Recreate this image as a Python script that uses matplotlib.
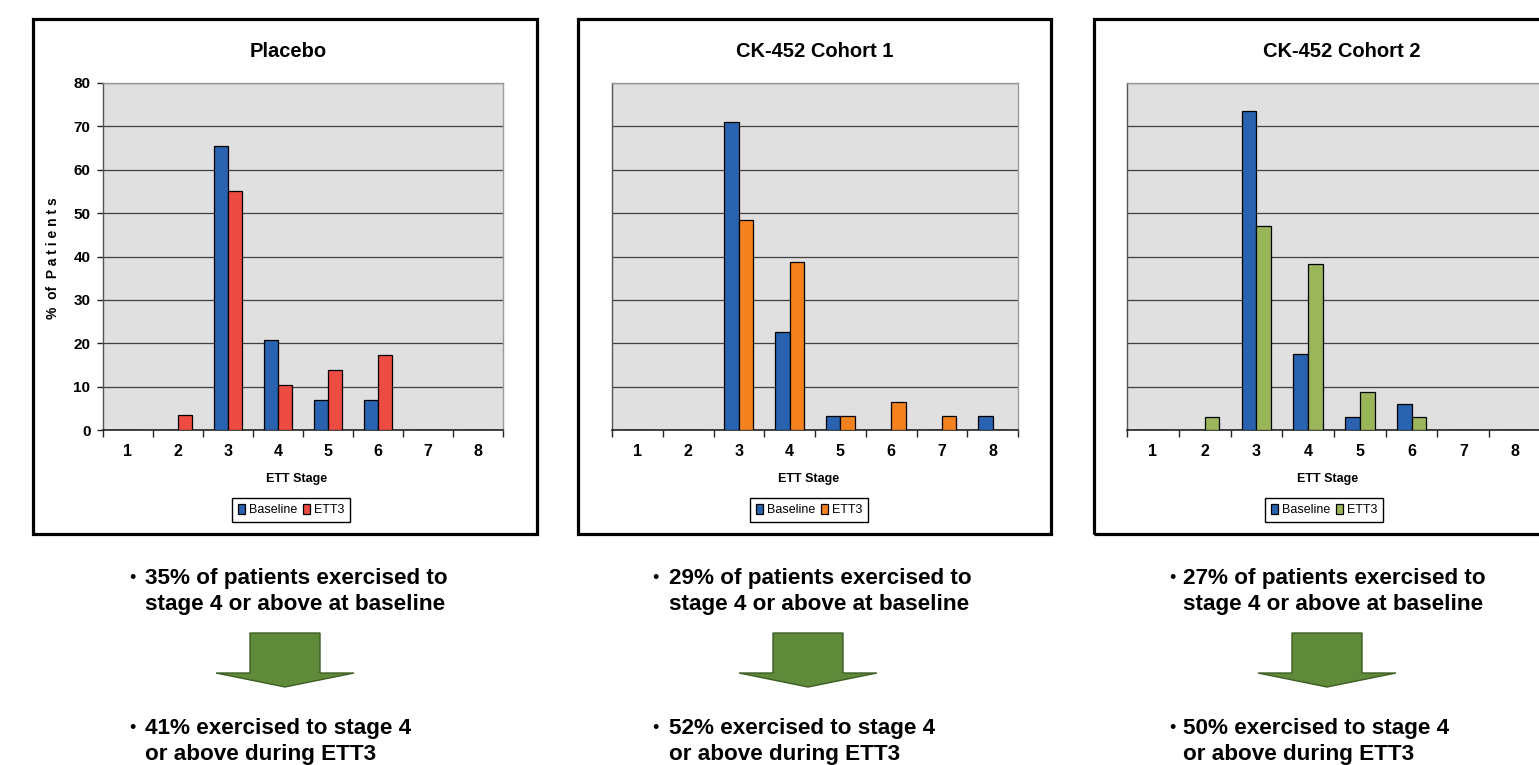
import matplotlib
matplotlib.use("Agg")
import matplotlib.pyplot as plt
from matplotlib import font_manager
from matplotlib.patches import Rectangle, Polygon

# ---------------- data ----------------
stages = [1, 2, 3, 4, 5, 6, 7, 8]
stage_labels = ["1", "2", "3", "4", "5", "6", "7", "8"]
y_ticks = [0, 10, 20, 30, 40, 50, 60, 70, 80]

titles = ["Placebo", "CK-452 Cohort 1", "CK-452 Cohort 2"]
series_names = ["Baseline", "ETT3"]

placebo_baseline = [0, 0, 65.5, 20.7, 6.9, 6.9, 0, 0]
placebo_ett3 = [0, 3.4, 55.2, 10.3, 13.8, 17.2, 0, 0]
cohort1_baseline = [0, 0, 71.0, 22.6, 3.2, 0, 0, 3.2]
cohort1_ett3 = [0, 0, 48.4, 38.7, 3.2, 6.5, 3.2, 0]
cohort2_baseline = [0, 0, 73.5, 17.6, 2.9, 5.9, 0, 0]
cohort2_ett3 = [0, 2.9, 47.1, 38.2, 8.8, 2.9, 0, 0]

text_before = [
    ["35% of patients exercised to", "stage 4 or above at baseline"],
    ["29% of patients exercised to", "stage 4 or above at baseline"],
    ["27% of patients exercised to", "stage 4 or above at baseline"],
]
text_after = [
    ["41% exercised to stage 4", "or above during ETT3"],
    ["52% exercised to stage 4", "or above during ETT3"],
    ["50% exercised to stage 4", "or above during ETT3"],
]

baseline_color = "#2962ae"
ett3_colors = ["#ee4b43", "#f5821f", "#9bb55a"]

# ---------------- fonts ----------------
def has_font(name):
    try:
        font_manager.findfont(font_manager.FontProperties(family=name),
                              fallback_to_default=False)
        return True
    except Exception:
        return False

NARROW = "Liberation Sans Narrow" if has_font("Liberation Sans Narrow") else None
MAIN = "Liberation Sans"
narrow_family = [NARROW, MAIN] if NARROW else [MAIN]
tick_size = 13 if NARROW else 11.5
ytick_size = 12 if NARROW else 11
leg_size = 10 if NARROW else 9

plt.rcParams["font.family"] = [MAIN, "DejaVu Sans"]

W, H = 1539, 765
fig = plt.figure(figsize=(W / 100, H / 100), dpi=100)


def fx(x):
    return x / W


def fy(y):
    return 1 - y / H


def rect_axes(l, t, r, b):
    return fig.add_axes([fx(l), fy(b), (r - l) / W, (b - t) / H])


panels = [
    dict(frame=(33, 19, 537, 534), ax=(103, 83, 503, 430), title_x=288,
         legend_x=291, bullet_x=132, text_x=145, arrow_x=285, ylab=True,
         base=placebo_baseline, ett=placebo_ett3),
    dict(frame=(578, 19, 1051, 534), ax=(612, 83, 1018, 430), title_x=815,
         legend_x=809, bullet_x=655, text_x=669, arrow_x=808, ylab=False,
         base=cohort1_baseline, ett=cohort1_ett3),
    dict(frame=(1094, 19, 1600, 534), ax=(1127, 83, 1541, 430), title_x=1342,
         legend_x=1324, bullet_x=1172, text_x=1183, arrow_x=1327, ylab=False,
         base=cohort2_baseline, ett=cohort2_ett3),
]

bw = 0.286
for i, p in enumerate(panels):
    # outer frame
    l, t, r, b = p["frame"]
    fig.patches.append(Rectangle((fx(l), fy(b)), (r - l) / W, (b - t) / H,
                                 transform=fig.transFigure, fill=False,
                                 edgecolor="black", linewidth=2.3, zorder=0))
    ax = rect_axes(*p["ax"])
    ax.set_facecolor("#e0e0e0")
    xs = stages
    ax.bar([x - bw / 2 for x in xs], p["base"], width=bw, color=baseline_color,
           edgecolor="black", linewidth=0.9, label=series_names[0], zorder=3)
    ax.bar([x + bw / 2 for x in xs], p["ett"], width=bw, color=ett3_colors[i],
           edgecolor="black", linewidth=0.9, label=series_names[1], zorder=3)
    ax.set_xlim(0.5, 8.5)
    ax.set_ylim(0, 80)
    ax.set_yticks(y_ticks)
    ax.yaxis.grid(True, color="#404040", linewidth=0.9, zorder=1)
    ax.set_axisbelow(True)
    # x: major ticks at boundaries, labels on minor ticks at centres
    ax.set_xticks([s + 0.5 for s in [0] + stages])
    ax.set_xticklabels([])
    ax.set_xticks(stages, minor=True)
    ax.set_xticklabels(stage_labels, minor=True, family=narrow_family,
                       fontsize=tick_size, fontweight="bold")
    ax.tick_params(axis="x", which="major", direction="out", length=5,
                   width=1, color="#222222")
    ax.tick_params(axis="x", which="minor", length=0, pad=10)
    for s in ["top", "right"]:
        ax.spines[s].set_color("#9a9a9a")
        ax.spines[s].set_linewidth(1)
    ax.spines["left"].set_color("#555555")
    ax.spines["left"].set_linewidth(1)
    ax.spines["bottom"].set_color("#222222")
    ax.spines["bottom"].set_linewidth(1.2)
    if p["ylab"]:
        ax.set_yticklabels([str(v) for v in y_ticks], family=narrow_family,
                           fontsize=ytick_size, fontweight="bold")
        ax.tick_params(axis="y", direction="out", length=4, width=1,
                       color="#222222", pad=5)
        fig.text(fx(53), fy(258), "%  of  P a t i e n t s", rotation=90,
                 ha="center", va="center", fontsize=10, fontweight="bold")
    else:
        ax.set_yticklabels([])
        ax.tick_params(axis="y", length=0)

    # x-axis title
    fig.text(fx((p["ax"][0] + p["ax"][2]) / 2 - 6), fy(479), "ETT Stage",
             ha="center", va="center", family=narrow_family,
             fontsize=10 if NARROW else 9, fontweight="bold")

    # chart title
    fig.text(fx(p["title_x"]), fy(57), titles[i], ha="center",
             va="baseline", fontsize=14.5, fontweight="bold")

    # legend
    leg = ax.legend(loc="center", bbox_to_anchor=(fx(p["legend_x"]), fy(510)),
                    bbox_transform=fig.transFigure, ncol=2, frameon=True,
                    fancybox=False, edgecolor="black", framealpha=1,
                    handlelength=0.55, handleheight=0.9, handletextpad=0.3,
                    columnspacing=0.5, borderpad=0.45,
                    prop=dict(family=narrow_family, size=leg_size))
    leg.get_frame().set_linewidth(1.0)

    # text below
    fs = 16.2
    for k, line in enumerate(text_before[i]):
        yb = 584 + 26 * k
        fig.text(fx(p["text_x"]), fy(yb), line, ha="left", va="baseline",
                 fontsize=fs, fontweight="bold")
    fig.text(fx(p["bullet_x"]), fy(583), "\u2022", ha="center",
             va="baseline", fontsize=13)
    for k, line in enumerate(text_after[i]):
        yb = 734 + 26 * k
        fig.text(fx(p["text_x"]), fy(yb), line, ha="left", va="baseline",
                 fontsize=fs, fontweight="bold")
    fig.text(fx(p["bullet_x"]), fy(733), "\u2022", ha="center",
             va="baseline", fontsize=13)

    # arrow
    cx = p["arrow_x"]
    pts = [(cx - 35, 633), (cx + 35, 633), (cx + 35, 673), (cx + 69, 673),
           (cx, 687), (cx - 69, 673), (cx - 35, 673)]
    fig.patches.append(Polygon([(fx(a), fy(c)) for a, c in pts], closed=True,
                               transform=fig.transFigure, facecolor="#5e8a3a",
                               edgecolor="#3d5e24", linewidth=1.0))

fig.savefig("out.png", dpi=100)
